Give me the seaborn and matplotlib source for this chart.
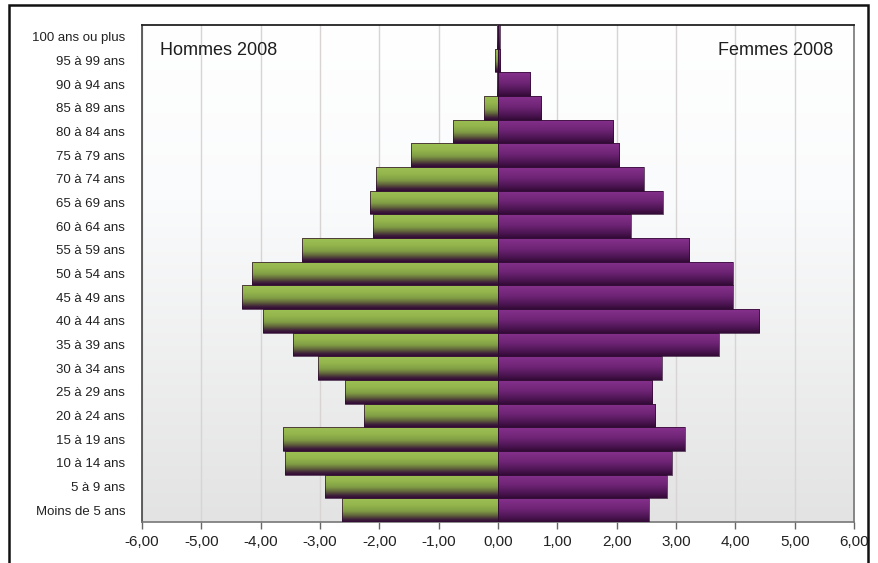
import numpy as np
import pandas as pd
import matplotlib
matplotlib.use("Agg")
import matplotlib.pyplot as plt
from matplotlib.colors import LinearSegmentedColormap
from matplotlib.patches import Rectangle
from matplotlib.ticker import FuncFormatter
import seaborn as sns

# Pyramide des âges 2008 (en % de la population)
tranches = ["100 ans ou plus", "95 à 99 ans", "90 à 94 ans", "85 à 89 ans",
            "80 à 84 ans", "75 à 79 ans", "70 à 74 ans", "65 à 69 ans",
            "60 à 64 ans", "55 à 59 ans", "50 à 54 ans", "45 à 49 ans",
            "40 à 44 ans", "35 à 39 ans", "30 à 34 ans", "25 à 29 ans",
            "20 à 24 ans", "15 à 19 ans", "10 à 14 ans", "5 à 9 ans",
            "Moins de 5 ans"]
hommes = [-0.01, -0.05, -0.01, -0.24, -0.76, -1.47, -2.05, -2.16, -2.11,
          -3.31, -4.15, -4.32, -3.96, -3.45, -3.04, -2.58, -2.26, -3.63,
          -3.59, -2.92, -2.63]
femmes = [0.03, 0.04, 0.54, 0.73, 1.94, 2.04, 2.46, 2.78, 2.24, 3.22, 3.96,
          3.96, 4.40, 3.72, 2.76, 2.60, 2.65, 3.15, 2.93, 2.84, 2.54]
graduations = [-6, -5, -4, -3, -2, -1, 0, 1, 2, 3, 4, 5, 6]

sns.set_style("white")
plt.rcParams["font.family"] = ["Liberation Sans", "DejaVu Sans"]

df_h = pd.DataFrame({"tranche": tranches, "valeur": hommes})
df_f = pd.DataFrame({"tranche": tranches, "valeur": femmes})

fig = plt.figure(figsize=(8.79, 5.63), dpi=100)
ax = fig.add_axes([0.1615, 0.0728, 0.8101, 0.8828])

sns.barplot(data=df_h, x="valeur", y="tranche", order=tranches, orient="h",
            color="#8fb04a", width=1.0, edgecolor="#2e0a30", linewidth=0.5,
            ax=ax, zorder=3)
sns.barplot(data=df_f, x="valeur", y="tranche", order=tranches, orient="h",
            color="#7a2a82", width=1.0, edgecolor="#2e0a30", linewidth=0.5,
            ax=ax, zorder=3)

xlim = (-6, 6)
ylim = ax.get_ylim()

# Dégradés verticaux des barres
cmap_h = LinearSegmentedColormap.from_list(
    "hommes", [(0.0, "#9dc054"), (0.3, "#93b54d"), (0.55, "#809c45"),
               (0.75, "#5c5c3b"), (0.9, "#3f1f3b"), (1.0, "#330a36")])
cmap_f = LinearSegmentedColormap.from_list(
    "femmes", [(0.0, "#85318d"), (0.45, "#6f2475"), (0.8, "#4c1552"),
               (1.0, "#330a36")])
grad = np.linspace(0, 1, 64).reshape(-1, 1)
for p in ax.patches:
    x0, y0 = p.get_x(), p.get_y()
    w, h = p.get_width(), p.get_height()
    if w == 0:
        continue
    cmap = cmap_h if w < 0 else cmap_f
    xa, xb = min(x0, x0 + w), max(x0, x0 + w)
    ya, yb = min(y0, y0 + h), max(y0, y0 + h)
    im = ax.imshow(grad, cmap=cmap, aspect="auto", origin="upper",
                   extent=(xa, xb, yb, ya), zorder=3.5, interpolation="bilinear")
    im.set_clip_path(p)
    p.set_facecolor("none")
    p.set_zorder(4)

# Fond dégradé de la zone de tracé
bg = LinearSegmentedColormap.from_list(
    "fond", [(0.0, "#ffffff"), (0.35, "#fafbfc"), (1.0, "#e3e3e3")])
ax.imshow(np.linspace(0, 1, 128).reshape(-1, 1), cmap=bg, aspect="auto",
          origin="upper", extent=(xlim[0], xlim[1], ylim[0], ylim[1]),
          zorder=0, interpolation="bilinear")

ax.set_xlim(*xlim)
ax.set_ylim(*ylim)

ax.set_xticks(graduations)
ax.xaxis.set_major_formatter(FuncFormatter(lambda v, _: f"{v:.2f}".replace(".", ",")))
ax.grid(axis="x", color="#d9d4d4", linewidth=1.0, zorder=1)
ax.set_axisbelow(True)
ax.set_xlabel("")
ax.set_ylabel("")

ax.tick_params(axis="x", which="major", direction="out", length=5, width=1,
               color="#666666", labelsize=11, labelcolor="#222222", pad=4,
               bottom=True)
ax.tick_params(axis="y", length=0, labelsize=9.5, labelcolor="#222222", pad=12)

for side, col, lw in [("top", "#222222", 1.3), ("left", "#444444", 1.2),
                      ("right", "#777777", 1.2), ("bottom", "#777777", 1.2)]:
    ax.spines[side].set_visible(True)
    ax.spines[side].set_color(col)
    ax.spines[side].set_linewidth(lw)

ax.text(0.025, 0.948, "Hommes 2008", transform=ax.transAxes, fontsize=13,
        color="#1e1e1e", ha="left", va="center", zorder=6)
ax.text(0.9705, 0.948, "Femmes 2008", transform=ax.transAxes, fontsize=13,
        color="#1e1e1e", ha="right", va="center", zorder=6)

# Cadre extérieur
fig.patches.append(Rectangle((9 / 879, -0.02), (868 - 9) / 879, 1 - 5 / 563 + 0.02,
                             transform=fig.transFigure, fill=False,
                             edgecolor="#111111", linewidth=1.8))

fig.savefig("out.png", dpi=100)
